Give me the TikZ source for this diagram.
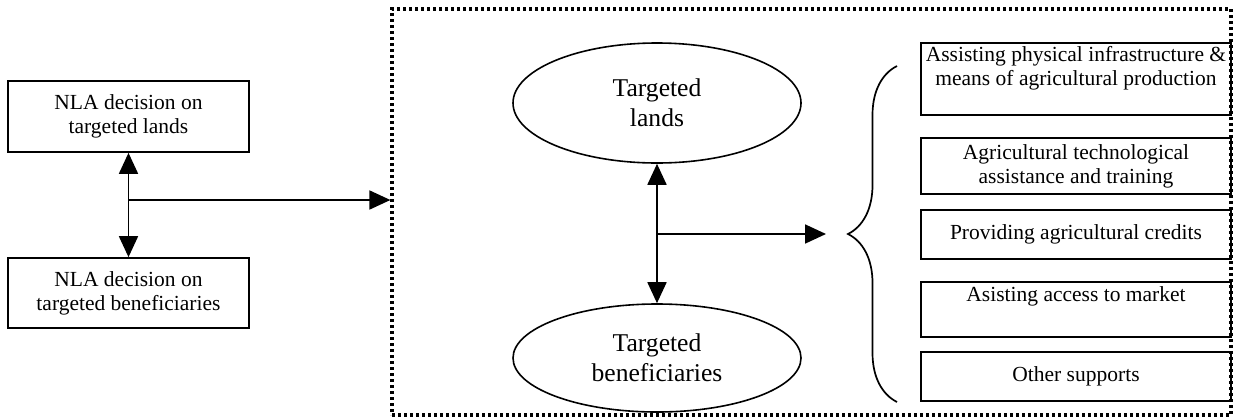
\documentclass[tikz,border=0pt]{standalone}
\usepackage{fontspec}
\setmainfont{Liberation Serif}
\usetikzlibrary{arrows.meta,shapes.geometric,decorations.pathreplacing}
\begin{document}
\begin{tikzpicture}[x=1pt,y=-1pt,
  box/.style={draw,line width=1.7pt,rectangle,inner sep=0pt,align=center,font=\fontsize{21.5}{24}\selectfont},
  oval/.style={draw,line width=1.6pt,ellipse,inner sep=0pt,align=center,font=\fontsize{25.6}{30}\selectfont},
  txt/.style={inner sep=0pt,align=center,font=\fontsize{21.5}{24}\selectfont},
  conn/.style={line width=1.8pt,-{Triangle[length=21pt,width=19pt]}},
  bconn/.style={line width=1.8pt,{Triangle[length=21pt,width=19pt]}-{Triangle[length=21pt,width=19pt]}},
  frame/.style={draw,line width=3.2pt,dash pattern=on 3pt off 3pt,rectangle,inner sep=0pt}]
\useasboundingbox (0,0) rectangle (1233,418);
% dotted frame
\node[frame,minimum width=839pt,minimum height=406pt] (fr) at (811.5,212) {};
% left boxes
\node[box,minimum width=241pt,minimum height=71pt] (b1) at (128.5,116.5) {NLA decision on\\targeted lands};
\node[box,minimum width=241pt,minimum height=70pt] (b2) at (128.5,293) {NLA decision on\\targeted beneficiaries};
% ellipses
\node[oval,minimum width=288pt,minimum height=120pt] (e1) at (657,103) {Targeted\\lands};
\node[oval,minimum width=288pt,minimum height=108pt] (e2) at (657,358) {Targeted\\beneficiaries};
% right boxes
\node[box,minimum width=310pt,minimum height=72pt] (r1) at (1076,79) {};
\node[txt] (t1) at (1076,68) {Assisting physical infrastructure \&\\means of agricultural production};
\node[box,minimum width=310pt,minimum height=56pt] (r2) at (1076,166) {Agricultural technological\\assistance and training};
\node[box,minimum width=310pt,minimum height=49pt] (r3) at (1076,234.5) {Providing agricultural credits};
\node[box,minimum width=310pt,minimum height=55pt] (r4) at (1076,309.5) {};
\node[txt] (t4) at (1076,296) {Asisting access to market};
\node[box,minimum width=310pt,minimum height=49pt] (r5) at (1076,376.5) {Other supports};
% connectors left
\coordinate (lj) at (128.5,200);
\draw[bconn] (b1.south) -- (b2.north);
\draw[conn] (lj) -- (fr.west |- lj);
% connectors middle
\coordinate (mj) at (657,234);
\coordinate (mt) at (826,234);
\draw[bconn] (e1.south) -- (e2.north);
\draw[conn] (mj) -- (mt);
% brace
\coordinate (bb) at (897,402);
\coordinate (bt) at (897,66);
\draw[line width=1.7pt,decorate,decoration={brace,amplitude=49pt}] (bb) -- (bt);
\end{tikzpicture}
\end{document}
